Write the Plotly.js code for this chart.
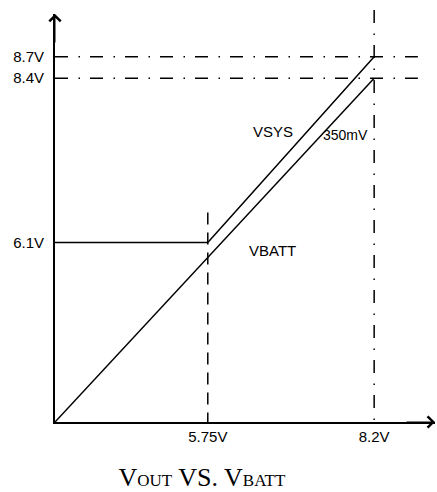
<!DOCTYPE html>
<html>
<head>
<meta charset="utf-8">
<script src="https://cdn.plot.ly/plotly-3.0.1.min.js"></script>
<style>html,body{margin:0;padding:0;background:#fff;}</style>
</head>
<body>
<div id="chart" style="width:437px;height:492px;"></div>
<script>
// ---- data (volts) ----
const unit = 'V';
const xTicks = [5.75, 8.2];          // VBATT key points
const yTicks = [6.1, 8.4, 8.7];      // VOUT key levels
const vbattX = [0, 8.2];
const vbattY = [0, 8.4];
const vsysX = [0, 5.75, 8.2];
const vsysY = [6.1, 6.1, 8.7];
const gapLabel = '350mV';

// ---- view (axes start at the point where VBATT meets the corner) ----
const xMin = 3.5, xMax = 9.096;
const yMin = xMin * vbattY[1] / vbattX[1];
const yMax = yMin + 5.714;

const sansFont = 'Liberation Sans, Arial, sans-serif';
const lineStyle = {color: '#000', width: 1.5};
const dashDot = '13px,10.5px,1.5px,10px';

const traces = [
  {x: vbattX, y: vbattY, type: 'scatter', mode: 'lines', line: lineStyle, hoverinfo: 'skip'},
  {x: vsysX, y: vsysY, type: 'scatter', mode: 'lines', line: lineStyle, hoverinfo: 'skip'}
];

const shapes = [];
yTicks.slice(1).forEach(v => shapes.push({
  type: 'line', xref: 'paper', x0: 0, x1: 0.955, yref: 'y', y0: v, y1: v,
  line: {color: '#000', width: 1.5, dash: dashDot}
}));
shapes.push({
  type: 'line', xref: 'x', x0: xTicks[1], x1: xTicks[1], yref: 'paper', y0: 1.01, y1: 0,
  line: {color: '#000', width: 1.5, dash: dashDot}
});
shapes.push({
  type: 'line', xref: 'x', x0: xTicks[0], x1: xTicks[0], yref: 'y', y0: yTicks[0] + 0.42, y1: yMin,
  line: {color: '#000', width: 1.5, dash: '12px,8px'}
});

const labelFont = {family: sansFont, size: 15, color: '#000'};
const annotations = [
  {xref: 'paper', yref: 'paper', x: 0, y: 1, ax: 0, ay: 30, axref: 'pixel', ayref: 'pixel',
   showarrow: true, arrowhead: 4, arrowsize: 2.2, arrowwidth: 1, arrowcolor: '#000', text: ''},
  {xref: 'paper', yref: 'paper', x: 1, y: 0, ax: -30, ay: 0, axref: 'pixel', ayref: 'pixel',
   showarrow: true, arrowhead: 4, arrowsize: 2.2, arrowwidth: 1, arrowcolor: '#000', text: ''},
  {xref: 'x', yref: 'y', x: 6.71, y: 7.65, text: 'VSYS', showarrow: false, font: labelFont},
  {xref: 'x', yref: 'y', x: 6.71, y: 5.99, text: 'VBATT', showarrow: false, font: labelFont},
  {xref: 'x', yref: 'y', x: 7.78, y: 7.6, text: gapLabel, showarrow: false,
   font: {family: sansFont, size: 14, color: '#000'}}
];

const axisCommon = {
  showgrid: false, zeroline: false, showline: true, linecolor: '#000', linewidth: 2,
  ticks: '', fixedrange: true, tickfont: {family: sansFont, size: 15, color: '#000'}
};

const layout = {
  width: 437, height: 492,
  margin: {l: 55, r: 2, t: 14, b: 70, pad: 0},
  paper_bgcolor: '#fff', plot_bgcolor: '#fff',
  showlegend: false,
  title: {
    text: 'V<span style="font-size:17px">OUT</span> VS. V<span style="font-size:17px">BATT</span>',
    font: {family: 'Liberation Serif, Times New Roman, serif', size: 26, color: '#000'},
    xref: 'container', yref: 'container', x: 0.462, xanchor: 'center', y: 0.03, yanchor: 'middle'
  },
  xaxis: Object.assign({}, axisCommon, {
    range: [xMin, xMax], tickvals: xTicks, ticktext: xTicks.map(v => v + unit)
  }),
  yaxis: Object.assign({}, axisCommon, {
    range: [yMin, yMax], tickvals: yTicks, ticktext: yTicks.map(v => v + unit), ticklabelstandoff: 6
  }),
  shapes: shapes,
  annotations: annotations
};

Plotly.newPlot('chart', traces, layout, {displayModeBar: false, staticPlot: true});
</script>
</body>
</html>
